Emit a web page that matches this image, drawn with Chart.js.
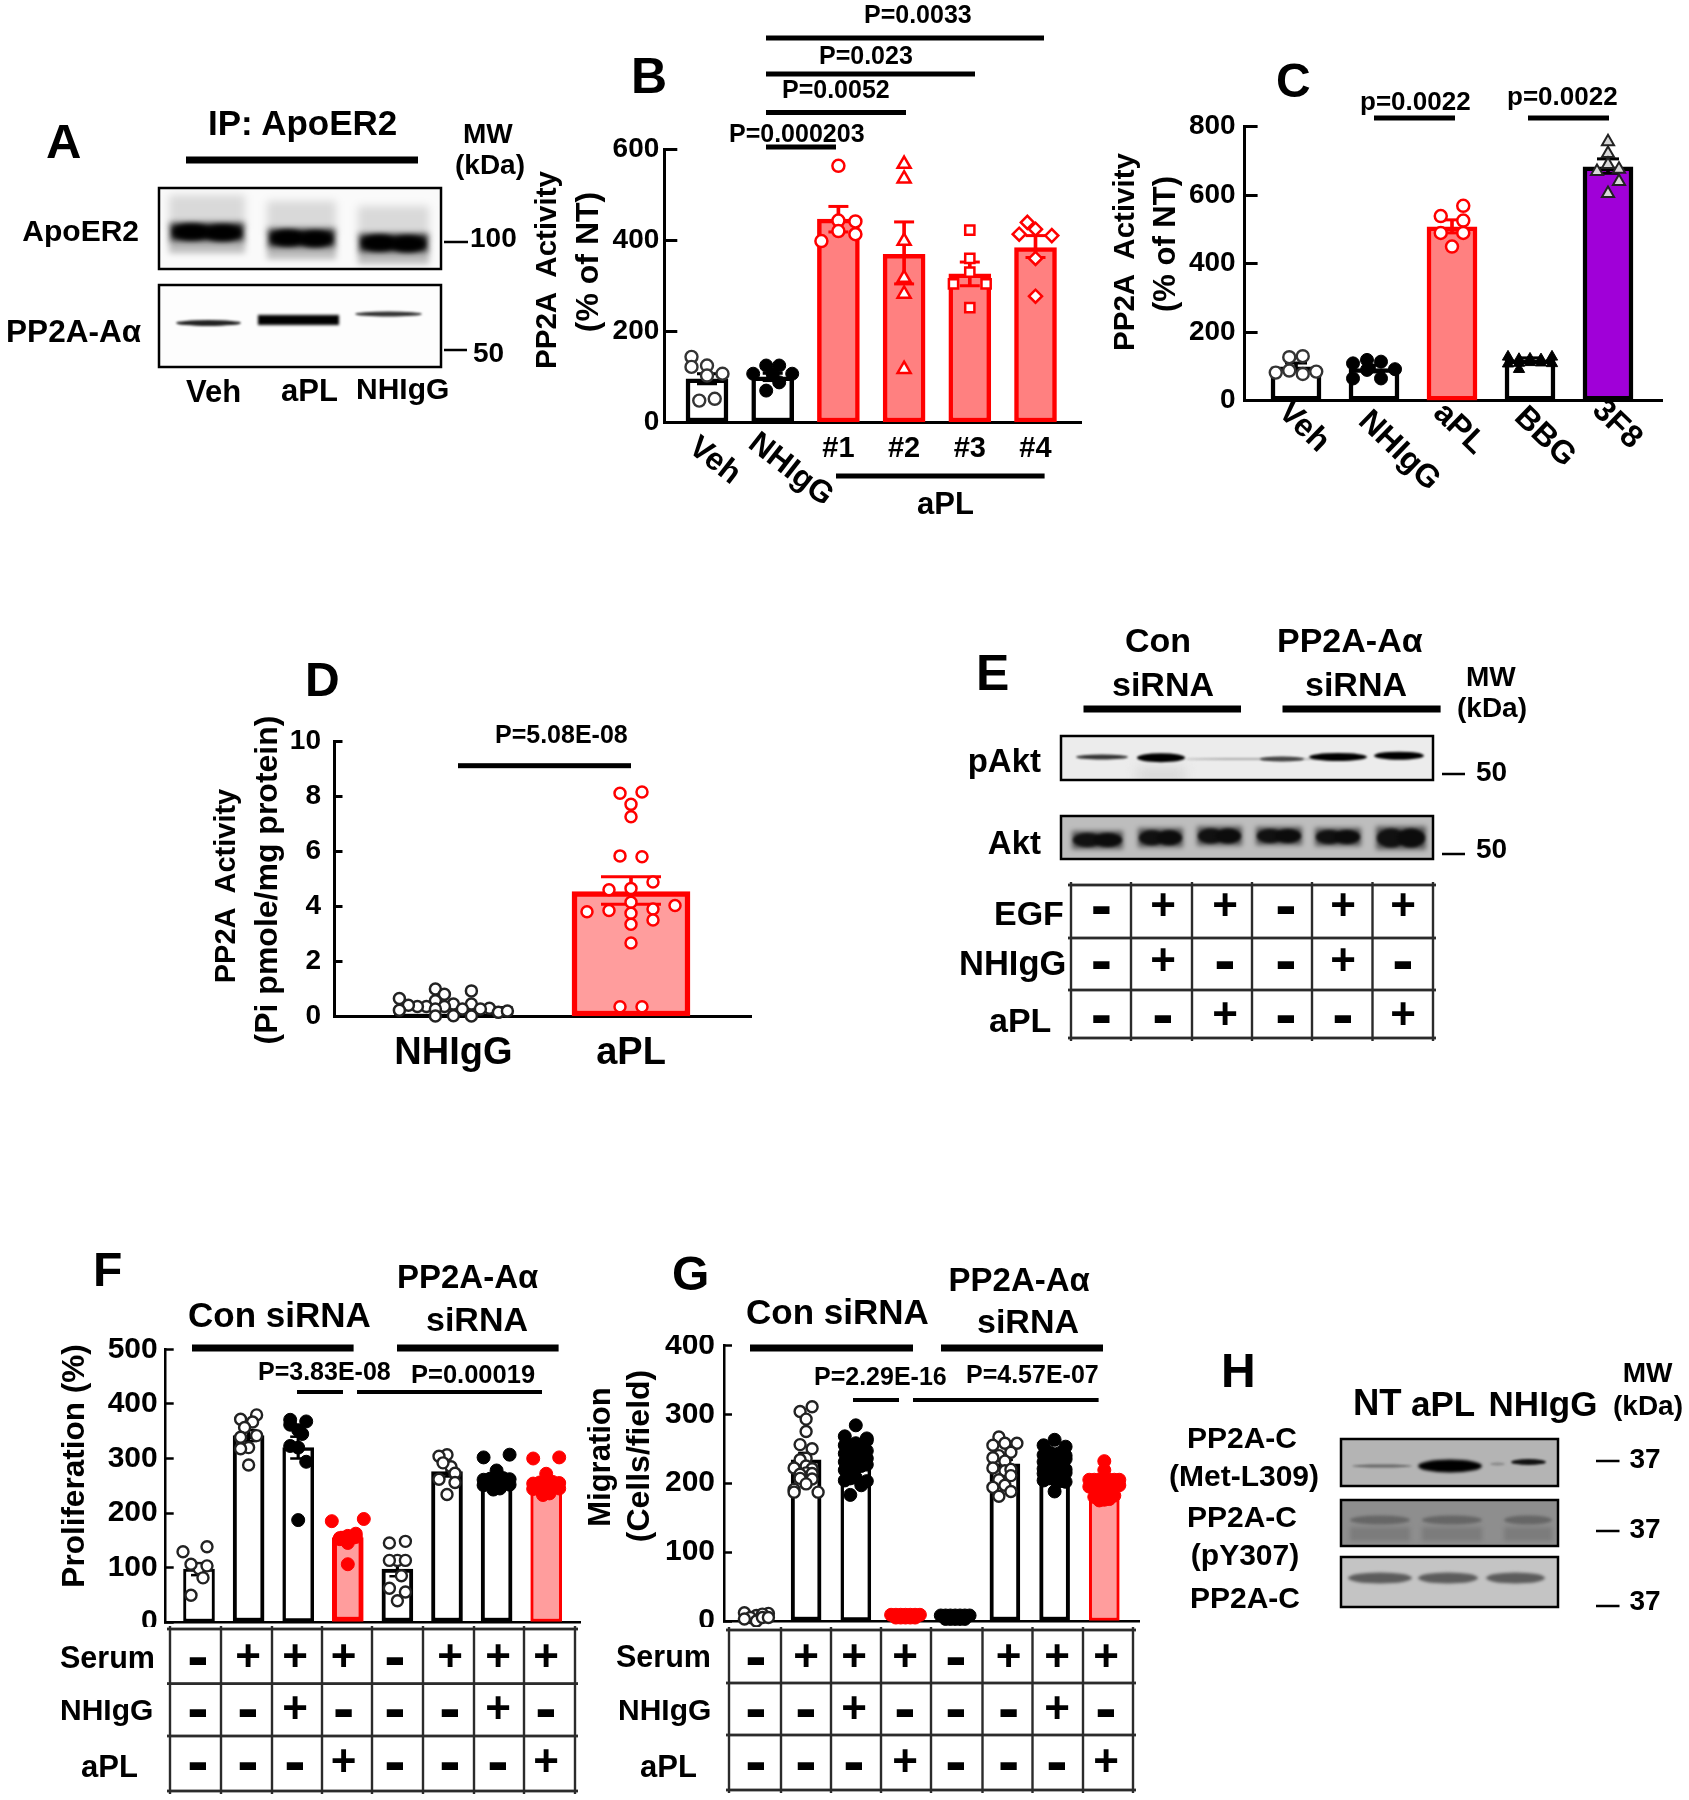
<!DOCTYPE html>
<html><head><meta charset="utf-8">
<style>
html,body{margin:0;padding:0;background:#fff}
#fig{position:relative;width:1689px;height:1800px;overflow:hidden;background:#fff;font-family:"Liberation Sans",Arial,sans-serif;color:#000;filter:blur(.6px)}
#fig canvas{position:absolute}
.t{position:absolute;line-height:0;white-space:pre;font-weight:bold}
.r{position:absolute;line-height:1;white-space:pre;font-weight:bold}
</style>
<script src="https://cdn.jsdelivr.net/npm/chart.js@4/dist/chart.umd.js"></script>
</head><body><div id="fig"><canvas id="blots" width="1689" height="1800" style="left:0;top:0"></canvas></div>
<script>
/* ---------- data; inner lists are rows of a swarm, null = empty slot ---------- */
const bCats=['Veh','NHIgG','#1','#2','#3','#4'];
const bMeans=[96,100,446,369,326,384];
const bHigh=[107,108,474,440,352,410];
const bLow=[85,92,418,304,300,362];
const bVeh=[[null,null,144],[125,null,122],[103,107,null],[52,48]];
const bNH=[[125,125],[106],[null,null,107,107],[88,null],[null,70]];
const bNo1=[[563],[443,441,null],[420,413,398]];
const bNo2=[[567],[535],[398],[317],[282],[117]];
const bNo3=[[422],[360],[330],[null,304,304],[252]];
const bNo4=[[null,439],[424,410,413],[360],[277]];

const cCats=['Veh','NHIgG','aPL','BBG','3F8'];
const cMeans=[99,94,508,119,683];
const cHigh=[110,104,528,125,706];
const cLow=[88,84,490,113,664];
const cVeh=[[130,127],[78,88,85,82]];
const cNH=[[114,119],[null,null,92,109],[65,90,null,65]];
const cApl=[[569,null],[526,539],[490,490],[450]];
const cBBG=[[null,null,null,128,128],[122,120,121,null,null],[112,111,110,109,108],[null,null,92]];
const c3F8=[[756],[722],[690],[null,676,669],[null,640,null],[605]];

const dCats=['NHIgG','aPL'];
const dMeans=[0.37,4.53];
const dHigh=[0.42,5.07];
const dLow=[0.30,4.07];
const dNH=[[null,null,null,0.93,1.0],[null,null,0.81],
 [null,null,null,null,0.57,null,null,null,null,null,null,null,0.65],
 [0.45,null,0.36,0.45,null,null,0.36,0.30,0.36,null,0.41],
 [null,0.27,null,null,0.27,0.27,null,null,null,0.15,null,0.20,0.23],
 [0.03,null,null,0.02,0.02]];
const dApl=[[8.15,8.1],[7.7],[7.25],[5.8,5.83],[4.65,4.88,4.6],[4.15],[3.75,3.9,3.85,4.03,3.8],[3.35,3.5,null],[2.67],[0.35,0.35]];

const fMeans=[97,342,320,155,97,276,267,259];
const fHigh=[108,352,340,165,108,285,272,265];
const fLow=[86,332,300,145,84,267,262,253];
const f1=[[null,138,null,null,129],[98,103,106],[81,null],[null,null,49]];
const f2=[[null,380,372],[367,357],[null,342,339],[320,null,318],[288]];
const f3=[[null,368,371],[352,null,362],[345,null],[320,null,323],[null,294,null],[187]];
const f4=[[null,null,null,189,185],[158,162,154],[150,156,152],[145],[106]];
const f5=[[null,148,145],[113,113,113],[85,null],[null,55,62],[39]];
const f6=[[307,null,304],[285,292],[null,273,262],[null,256,null],[234]];
const f7=[[null,null,null,307,302],[278],[265,264,263,262,261],[255,254,253,252,251],[245,243]];
const f8=[[null,null,null,302,300],[272],[258,257,256,255,254],[248,247,246,245,244],[236,233]];

const gMeans=[5,234,238,6,5,228,228,196];
const gHigh=[6,244,244,7,6,234,234,200];
const gLow=[4,224,232,5,4,222,222,192];
const g1=[[null,null,null,11,12],[8,10,5,null,null],[0,5,null,5,3]];
const g2=[[null,311,304],[293],[275],[null,250,256],[236,null,234],[225,221,null,null,222],[215,214,213],[null,206,207],[199,null,null,null,191],[null,null,null,187,187]];
const g3=[[284],[null,null,null,265,268],[258,256,255,262,255],[248,245,244,247,243],[235,233,232,236,231],[222,225,220,227,219],[208,null,207,203,204],[null,197,null],[null,null,183]];
const g4=[[9,9,9,9,9,9,9],[5,5,5,5,5]];
const g5=[[8,8,8,8,8,8,8],[3,3,3,3,3]];
const g6=[[null,null,267],[258,null,null,258,255],[null,245,240],[232,null,null,null,237],[218,220,null,null,222],[null,211,205],[197,null,null,null,194],[null,188,181]];
const g7=[[263],[null,null,null,253,255],[242,244,245,240,241],[232,233,230,235,231],[222,224,225,220,221],[212,213,210,215,214],[205,203,207,202,204],[188]];
const g8=[[232],[219],[205,205,205,205,205,205,205],[196,197,195,198,194,197,195],[182,183,181,182,180],[176,177,175]];

const eSigns=[['-','+','+','-','+','+'],['-','+','-','-','+','-'],['-','-','+','-','-','+']];
const fgSigns=[['-','+','+','+','-','+','+','+'],['-','-','+','-','-','-','+','-'],['-','-','-','+','-','-','-','+']];

/* ---------- palette ---------- */
const RED='#ff0000',BLK='#000000',W='#ffffff',PK1='#ff8080',PK2='#ff9d9d',PUR='#a000d8';
const FONT='"Liberation Sans",Arial,sans-serif';

/* ---------- page helpers ---------- */
const fig=document.getElementById('fig');
const bc=document.getElementById('blots').getContext('2d');
function T(s,x,base,size,a='l',w='bold'){const e=document.createElement('div');e.className='t';e.textContent=s;
 e.style.cssText=`left:${x}px;top:${base-.3465*size}px;font-size:${size}px;font-weight:${w};`+(a==='c'?'transform:translateX(-50%)':a==='r'?'transform:translateX(-100%)':'');fig.appendChild(e);}
function R(s,cx,cy,size){const e=document.createElement('div');e.className='r';e.textContent=s;
 e.style.cssText=`left:${cx}px;top:${cy}px;font-size:${size}px;transform:translate(-50%,-50%) rotate(-90deg)`;fig.appendChild(e);}
function L(x1,x2,y,t=5,c='#000'){bc.fillStyle=c;bc.fillRect(x1,y-t/2,x2-x1,t);}
function frame(x1,y1,x2,y2,bg,fn){bc.save();bc.beginPath();bc.rect(x1,y1,x2-x1,y2-y1);bc.clip();bc.fillStyle=bg;bc.fillRect(x1,y1,x2-x1,y2-y1);fn&&fn();bc.restore();
 bc.strokeStyle='#000';bc.lineWidth=2.5;bc.strokeRect(x1,y1,x2-x1,y2-y1);}
function band(x1,x2,yc,h,c,b=2){bc.save();bc.filter=`blur(${b}px)`;bc.fillStyle=c;bc.beginPath();bc.ellipse((x1+x2)/2,yc,(x2-x1)/2,h/2,0,0,Math.PI*2);bc.fill();bc.restore();}
function bar2(x1,x2,yc,h,c,b=2){bc.save();bc.filter=`blur(${b}px)`;bc.fillStyle=c;bc.fillRect(x1,yc-h/2,x2-x1,h);bc.restore();}
function grid(xs,ys){bc.fillStyle='#2b2b2b';xs.forEach(x=>bc.fillRect(x-1.2,ys[0]-3,2.4,ys[ys.length-1]-ys[0]+6));ys.forEach(y=>bc.fillRect(xs[0]-3,y-1.4,xs[xs.length-1]-xs[0]+6,2.8));}
function signs(tab,xs,ys){tab.forEach((row,r)=>row.forEach((s,c)=>{
 if(s==='+')T('+',xs[c],ys[r]-2.5+.33*44,44,'c');else T('-',xs[c],ys[r]+1.5+.27*64,64,'c');}));}

/* ---------- chart plumbing ---------- */
const rotPlugin={id:'rotLabels',afterDraw(ch,_,o){if(!o.items)return;const c=ch.ctx,xs=ch.scales.x;
 c.save();c.font=`bold ${o.size}px ${FONT}`;c.fillStyle='#000';c.textAlign='left';c.textBaseline='alphabetic';
 o.items.forEach(([i,dx,y])=>{c.save();c.translate(xs.getPixelForValue(i)+dx,ch.chartArea.bottom+y);c.rotate(o.angle*Math.PI/180);c.fillText(o.labels[i],0,0);c.restore();});c.restore();}};
Chart.register(rotPlugin);

function swarm(rows,cat,step){const out=[];rows.forEach(r=>r.forEach((v,k)=>{if(v===null)return;
 const slot=r.length%2?(k===0?0:(k%2?1:-1)*Math.ceil(k/2)):(k%2?-1:1)*(Math.floor(k/2)+.5);
 out.push({x:cat+slot*step,y:v});}));return out;}

function makeChart(g,d){
 const cv=document.createElement('canvas');cv.width=g.w;cv.height=g.h;cv.style.left=g.l+'px';cv.style.top=g.t+'px';fig.appendChild(cv);
 const idx=d.means.map((_,i)=>i);
 const ds=[];
 ds.push({type:'bar',order:5,grouped:false,barThickness:g.barW,borderSkipped:false,
  data:idx.map(i=>({x:i,y:d.means[i]})),backgroundColor:d.fill,borderColor:d.edge,borderWidth:d.edgeW});
 ds.push({type:'bar',order:4,grouped:false,barThickness:g.errW,borderWidth:0,
  data:idx.map(i=>({x:i,y:[d.low[i],d.high[i]]})),backgroundColor:d.err});
 ds.push({type:'scatter',order:3,clip:false,pointStyle:'line',pointRadius:g.cap,pointBorderWidth:g.errW,
  pointBorderColor:idx.concat(idx).map(i=>d.err[i]),
  data:idx.map(i=>({x:i,y:d.high[i]})).concat(idx.map(i=>({x:i,y:d.low[i]})))});
 d.groups.forEach((gr,i)=>ds.push({type:'scatter',order:2,clip:false,
  data:swarm(gr.rows,i,gr.step/g.dx),pointStyle:gr.shape,pointRadius:gr.r,pointBackgroundColor:gr.face,pointBorderColor:gr.line,pointBorderWidth:gr.lw}));
 const hide=d.hideTicks||[];
 return new Chart(cv,{data:{datasets:ds},options:{responsive:false,animation:false,events:[],
  layout:{autoPadding:false,padding:{top:g.yTop-g.t,right:g.l+g.w-g.axisEnd,left:0,bottom:0}},
  plugins:{legend:{display:false},tooltip:{enabled:false},rotLabels:d.rot||{}},
  scales:{
   x:{type:'linear',offset:false,min:-(g.x0-g.axisX)/g.dx,max:(g.axisEnd-g.x0)/g.dx,
    grid:{display:true,offset:false,drawOnChartArea:false,drawTicks:false},border:{display:true,width:g.axW,color:'#000'},
    afterBuildTicks(s){s.ticks=idx.map(i=>({value:i}));},
    afterFit(s){s.height=g.t+g.h-g.y0;s.paddingLeft=s.paddingRight=0;},
    ticks:{autoSkip:false,maxRotation:0,minRotation:0,padding:g.xPad,color:'#000',font:{family:FONT,weight:'bold',size:g.xFont},
     callback:v=>hide.includes(v)?'':d.cats[v]}},
   y:{type:'linear',min:0,max:d.ymax,
    grid:{display:true,drawOnChartArea:false,drawTicks:true,tickLength:-g.tick,tickWidth:g.axW,tickColor:'#000'},
    border:{display:true,width:g.axW,color:'#000'},
    afterFit(s){s.width=g.axisX-g.l;s.paddingTop=s.paddingBottom=0;},
    ticks:{stepSize:d.ystep,padding:g.tick+g.yGap,color:'#000',font:{family:FONT,weight:'bold',size:g.yFont}}}}}});
}
const mk=(rows,step,shape,r,face,line,lw)=>({rows,step,shape,r,face,line,lw});

/* ---------- panel B ---------- */
makeChart({l:600,t:130,w:490,h:395,axisX:664.3,axisEnd:1081.6,yTop:149,y0:422.5,x0:707,dx:65.7,barW:42,errW:3,cap:10,axW:3,tick:13,yGap:5,yFont:28,xFont:29,xPad:9},
 {cats:bCats,means:bMeans,high:bHigh,low:bLow,ymax:600,ystep:200,hideTicks:[0,1],
  fill:[W,W,PK1,PK1,PK1,PK1],edge:[BLK,BLK,RED,RED,RED,RED],edgeW:4.5,err:[BLK,BLK,RED,RED,RED,RED],
  rot:{labels:bCats,angle:38,size:31.5,items:[[0,-20,28],[1,-26,24]]},
  groups:[mk(bVeh,15.5,'circle',6,W,'#333',2.4),mk(bNH,13,'circle',6.5,BLK,BLK,1),
   mk(bNo1,17,'circle',6,W,RED,2.5),mk(bNo2,16,'triangle',7.5,W,RED,2.5),mk(bNo3,16.3,'rect',6.5,W,RED,2.5),mk(bNo4,16.3,'rectRot',6.5,W,RED,2.5)]});

/* ---------- panel C ---------- */
makeChart({l:1170,t:112,w:500,h:400,axisX:1244.6,axisEnd:1662,yTop:126.7,y0:400.7,x0:1296,dx:78,barW:50,errW:3,cap:11,axW:3,tick:13,yGap:9,yFont:28,xFont:29,xPad:10},
 {cats:cCats,means:cMeans,high:cHigh,low:cLow,ymax:800,ystep:200,hideTicks:[0,1,2,3,4],
  fill:[W,W,PK1,W,PUR],edge:[BLK,BLK,RED,BLK,BLK],edgeW:4.5,err:[BLK,BLK,RED,BLK,BLK],
  rot:{labels:cCats,angle:44,size:32,items:[[0,-19,13],[1,-17,22],[2,-20,14],[3,-17,18],[4,-17,11]]},
  groups:[mk(cVeh,13.5,'circle',6,W,'#333',2.4),mk(cNH,14,'circle',6.5,BLK,BLK,1),mk(cApl,22.5,'circle',6,W,RED,2.5),
   mk(cBBG,11,'triangle',6.5,BLK,BLK,1),mk(c3F8,11,'triangle',7,'#d8d8d8','#222',2)]});

/* ---------- panel D ---------- */
makeChart({l:270,t:725,w:490,h:360,axisX:334,axisEnd:751.6,yTop:741,y0:1016.5,x0:453.4,dx:177.6,barW:118,errW:3,cap:30,axW:3,tick:8.5,yGap:13,yFont:28,xFont:38,xPad:14},
 {cats:dCats,means:dMeans,high:dHigh,low:dLow,ymax:10,ystep:2,
  fill:[W,PK2],edge:[BLK,RED],edgeW:[2.5,5.5],err:[BLK,RED],
  groups:[mk(dNH,9,'circle',5.5,W,'#222',2.5),mk(dApl,22,'circle',5.5,W,RED,2.5)]});

/* ---------- panels F, G ---------- */
const fgFill=[W,W,W,PK2,W,W,W,PK2],fgEdge=[BLK,BLK,BLK,RED,BLK,BLK,BLK,RED],fgW=[3,4,3.5,5,4,4,4,3];
const fgCats=['1','2','3','4','5','6','7','8'];
makeChart({l:105,t:1335,w:480,h:292,axisX:165.7,axisEnd:580,yTop:1349.5,y0:1622,x0:199,dx:49.6,barW:31,errW:2.5,cap:8,axW:2.5,tick:8,yGap:8,yFont:30,xFont:1,xPad:0},
 {cats:fgCats,means:fMeans,high:fHigh,low:fLow,ymax:500,ystep:100,hideTicks:[0,1,2,3,4,5,6,7],
  fill:fgFill,edge:fgEdge,edgeW:fgW,err:fgEdge,
  groups:[mk(f1,8,'circle',5.5,W,'#222',2.4),mk(f2,8,'circle',5.5,W,'#222',2.4),mk(f3,8,'circle',6.5,BLK,BLK,1),mk(f4,8,'circle',6.5,RED,RED,1),
   mk(f5,8,'circle',5.5,W,'#222',2.4),mk(f6,8,'circle',5.5,W,'#222',2.4),mk(f7,6.5,'circle',6.5,BLK,BLK,1),mk(f8,6.5,'circle',6.5,RED,RED,1)]});
makeChart({l:660,t:1335,w:490,h:292,axisX:724,axisEnd:1139,yTop:1345.4,y0:1621,x0:756.4,dx:49.7,barW:30,errW:2.5,cap:8,axW:2.5,tick:8,yGap:9,yFont:30,xFont:1,xPad:0},
 {cats:fgCats,means:gMeans,high:gHigh,low:gLow,ymax:400,ystep:100,hideTicks:[0,1,2,3,4,5,6,7],
  fill:fgFill,edge:fgEdge,edgeW:fgW,err:fgEdge,
  groups:[mk(g1,6,'circle',5.5,W,'#222',2.4),mk(g2,6,'circle',5.5,W,'#222',2.4),mk(g3,5.5,'circle',6.5,BLK,BLK,1),mk(g4,4.8,'circle',6.5,RED,RED,1),
   mk(g5,4.8,'circle',6.5,BLK,BLK,1),mk(g6,6,'circle',5.5,W,'#222',2.4),mk(g7,5.5,'circle',6.5,BLK,BLK,1),mk(g8,5,'circle',6.5,RED,RED,1)]});

/* ---------- panel A ---------- */
T('A',46,158,49);T('IP: ApoER2',208,135,35);L(186,418,160,7);
frame(159,188,441,269,'#fafafa',()=>{[[169,245,232,.8],[267,336,238,.9],[358,429,243,1]].forEach(([a,b,y])=>{
  bar2(a,b,y-20,34,'rgba(0,0,0,.13)',4);bar2(a,b,y+14,14,'rgba(0,0,0,.25)',3);bar2(a+1,b-1,y,18,'#1c1c1c',3);
  band(a+4,(a+b)/2+3,y,16,'#000',2.5);band((a+b)/2-3,b-4,y+1,16,'#000',2.5);});});
frame(159,285,441,367,'#fdfdfd',()=>{band(176,241,323,6,'#222',1.2);bar2(258,339,320,10,'#000',1.5);band(355,422,314,5,'#333',1.2);});
T('ApoER2',139,241,30,'r');T('PP2A-Aα',141,342,31.5,'r');
T('Veh',186,403,31);T('aPL',281,402,31);T('NHIgG',356,399,30);
T('MW',463,144,28);T('(kDa)',455,175,28);
L(444,468,242,2.5);T('100',470,248,28);L(444,467,350,2.5);T('50',473,363,28);

/* ---------- panel B / C text ---------- */
T('B',631,93,50);
T('P=0.0033',864,23,25);L(766,1044,38,5);T('P=0.023',819,64,25);L(766,975,74,5);
T('P=0.0052',782,98,25);L(766,906,112.5,5);T('P=0.000203',729,142,25);L(766,836,147,5);
R('PP2A  Activity',546,270,29.5);R('(% of NT)',587,262,32);
L(836,1044.6,476,5);T('aPL',917,515,31);
T('C',1276,98,48);
T('p=0.0022',1360,110,26);L(1374,1455,118,5);T('p=0.0022',1507,105,26);L(1528,1609,118,5);
R('PP2A  Activity',1124,252,29.5);R('(% of NT)',1164,244,31);

/* ---------- panel D text ---------- */
T('D',305,697,48);T('P=5.08E-08',495,743,25);L(458,631,765.7,5);
R('PP2A  Activity',225,886,29);R('(Pi pmole/mg protein)',266,880,32);

/* ---------- panel E ---------- */
T('E',976,690,50);T('Con',1158,652,34,'c');T('siRNA',1163,696,34,'c');T('PP2A-Aα',1277,652,34);T('siRNA',1356,696,34,'c');
L(1083.5,1241,709,7);L(1282.5,1440.6,709,7);T('MW',1466,687,28);T('(kDa)',1457,718,28);
frame(1061,736,1433,780,'#ececec',()=>{bar2(1137,1185,775,16,'#d8d8d8',6);
 band(1076,1128,757,5,'#333',1);band(1137,1185,757.7,9,'#000',1.2);band(1185,1320,759,2,'#aaa',1);band(1260,1304,759,5,'#444',1);
 band(1309,1367,757,8,'#000',1.2);band(1374,1424,755.7,8,'#000',1.2);});
frame(1061,816,1433,859,'#bdbdbd',()=>{[[1072,1123,840,14],[1138,1183,837.7,15],[1197,1242,836,15],[1256,1302,836,14],[1315,1361,837,14],[1376,1426,838,19]].forEach(([a,b,y,h])=>{
  bar2(a,b,y,h+4,'rgba(0,0,0,.55)',2.5);band(a+1,(a+b)/2+4,y,h,'#111',1.8);band((a+b)/2-4,b-1,y,h,'#0c0c0c',1.8);});});
T('pAkt',1041,772,33,'r');T('Akt',1041,854,33,'r');
L(1442,1465,774,2.5);T('50',1476,782,28);L(1442,1465,854,2.5);T('50',1476,859,28);
grid([1071,1131,1192,1252,1312,1372.5,1433],[885,938,990,1038]);
T('EGF',994,925,34);T('NHIgG',959,975,34.5);T('aPL',989,1032,34);
signs(eSigns,[1101.5,1163,1225,1286,1343,1403],[908,963,1017]);

/* ---------- panel F ---------- */
T('F',93,1287,48);T('Con siRNA',188,1327,35);T('PP2A-Aα',397,1288,33);T('siRNA',426,1331,34);
L(192,353.6,1348,7);L(397,558.6,1348,7);T('P=3.83E-08',258,1380,25);T('P=0.00019',411,1382.6,25.5);
L(297,343,1392,4);L(357,542,1392,4);R('Proliferation (%)',74,1466,31.5);
grid([170,221,272,322,372,423,474,524,575],[1629,1683.6,1736,1791]);
T('Serum',60,1668,30.5);T('NHIgG',60,1720,30);T('aPL',81,1778,31);
signs(fgSigns,[198,248,295,343.6,395,450,498,546],[1659,1711.5,1764]);

/* ---------- panel G ---------- */
T('G',672,1291,48);T('Con siRNA',746,1324,35);T('PP2A-Aα',948.6,1291,33);T('siRNA',977,1333,34);
L(750,913,1348,7);L(941,1103,1348,7);T('P=2.29E-16',814,1385,25);T('P=4.57E-07',966,1382.6,25);
L(853,899,1400,4);L(913,1098.6,1400,4);R('Migration',598.6,1457,31);R('(Cells/field)',637.6,1456,32);
grid([729,781,831,881,931,982.5,1032.5,1083,1133],[1630,1683,1735,1790]);
T('Serum',616,1667,30.5);T('NHIgG',618,1720,30);T('aPL',640,1778,31);
signs(fgSigns,[756,806,854,905,956,1008.6,1057,1106],[1659,1711.5,1764]);

/* ---------- panel H ---------- */
T('H',1221,1388,48);T('NT',1353,1416,36.5);T('aPL',1411,1416,35);T('NHIgG',1488.6,1416,35);T('MW',1622.7,1383,28);T('(kDa)',1613,1416,28);
frame(1341,1439,1558,1486,'#b4b4b4',()=>{band(1352,1412,1466,3,'#666',1);band(1418,1482,1466,13,'#000',1.5);band(1490,1505,1464,3,'#888',1);band(1511,1546,1462,6,'#111',1.2);});
frame(1341,1500,1558,1546,'#8e8e8e',()=>{[[1350,1410],[1422,1482],[1504,1552]].forEach(([a,b])=>{band(a,b,1520,9,'#666',1.5);bar2(a,b,1534,14,'#7c7c7c',2);});});
frame(1341,1557,1558,1607,'#c4c4c4',()=>{[[1348,1412],[1418,1478],[1486,1545]].forEach(([a,b])=>band(a,b,1578,11,'#5c5c5c',1.6));});
T('PP2A-C',1242,1448,30,'c');T('(Met-L309)',1244,1486,30,'c');T('PP2A-C',1242,1527,30,'c');T('(pY307)',1245,1565,30,'c');T('PP2A-C',1245,1608,30,'c');
L(1596,1619.5,1461,2.5);T('37',1629.5,1469,28);L(1596,1619.5,1531,2.5);T('37',1629.5,1539,28);L(1596,1619.5,1606,2.5);T('37',1629.5,1611,28);
</script></body></html>
